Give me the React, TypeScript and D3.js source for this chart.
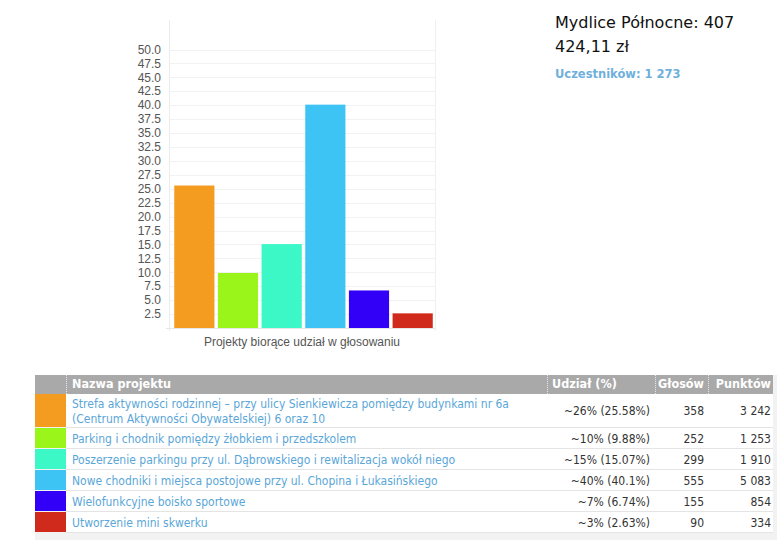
import React from "react";
import * as d3 from "d3";

const projects = [
  "Strefa aktywności rodzinnej – przy ulicy Sienkiewicza pomiędzy budynkami nr 6a|(Centrum Aktywności Obywatelskiej) 6 oraz 10",
  "Parking i chodnik pomiędzy żłobkiem i przedszkolem",
  "Poszerzenie parkingu przy ul. Dąbrowskiego i rewitalizacja wokół niego",
  "Nowe chodniki i miejsca postojowe przy ul. Chopina i Łukasińskiego",
  "Wielofunkcyjne boisko sportowe",
  "Utworzenie mini skwerku",
];
const shares = [25.58, 9.88, 15.07, 40.1, 6.74, 2.63];
const shareLabels = ["~26% (25.58%)", "~10% (9.88%)", "~15% (15.07%)", "~40% (40.1%)", "~7% (6.74%)", "~3% (2.63%)"];
const votes = ["358", "252", "299", "555", "155", "90"];
const points = ["3 242", "1 253", "1 910", "5 083", "854", "334"];
const colors = ["#f39c1f", "#99f51a", "#3cf7c6", "#3ec4f4", "#3300f7", "#d02a1c"];
const yTicks = d3.range(1, 21).map((i) => i * 2.5);

const TABLE_FONT = "Tahoma, 'DejaVu Sans Condensed', 'DejaVu Sans', sans-serif";

export default function App() {
  const y = d3.scaleLinear().domain([0, 50]).range([328, 49.5]);
  const x = d3
    .scaleBand<number>()
    .domain(d3.range(shares.length))
    .range([172.5, 434.5])
    .paddingInner(0.08)
    .paddingOuter(0.04);

  const rowHeights = [34, 21, 21, 21, 21, 21];
  const rowTops: number[] = [];
  let acc = 394;
  rowHeights.forEach((h) => {
    rowTops.push(acc);
    acc += h;
  });
  const tableBottom = acc;

  return (
    <svg
      width={784}
      height={540}
      style={{ position: "absolute", left: 0, top: 0, background: "#fff" }}
    >
      <g>
        {yTicks.map((t) => (
          <line key={"g" + t} x1={169} x2={435} y1={Math.round(y(t)) + 0.5} y2={Math.round(y(t)) + 0.5} stroke="#f2f2f2" />
        ))}
        <line x1={169.5} x2={169.5} y1={20} y2={331} stroke="#ececec" />
        <line x1={435.5} x2={435.5} y1={20} y2={331} stroke="#f0f0f0" />
        <line x1={166} x2={435} y1={328.5} y2={328.5} stroke="#e6e6e6" />
        {yTicks.map((t) => (
          <text
            key={"t" + t}
            x={161}
            y={y(t)}
            dy="0.35em"
            textAnchor="end"
            fontFamily="'Liberation Sans', Arial, sans-serif"
            fontSize={12}
            fill="#555"
          >
            {t.toFixed(1)}
          </text>
        ))}
        {shares.map((v, i) => (
          <rect
            key={"b" + i}
            x={x(i)!}
            y={y(v)}
            width={x.bandwidth()}
            height={y(0) - y(v)}
            fill={colors[i]}
          />
        ))}
        <text
          x={302}
          y={346}
          textAnchor="middle"
          fontFamily="'Liberation Sans', Arial, sans-serif"
          fontSize={12}
          fill="#555"
        >
          Projekty biorące udział w głosowaniu
        </text>
      </g>

      <text x={555} y={28} fontFamily="Tahoma, 'DejaVu Sans', sans-serif" fontSize={16} fill="#111">
        Mydlice Północne: 407
      </text>
      <text x={555} y={52} fontFamily="Tahoma, 'DejaVu Sans', sans-serif" fontSize={16} fill="#111">
        424,11 zł
      </text>
      <text x={555} y={78} fontFamily="Tahoma, 'DejaVu Sans', sans-serif" fontSize={11.5} fontWeight="bold" fill="#6fb0dc">
        Uczestników: 1 273
      </text>

      <g fontFamily={TABLE_FONT} fontSize={12}>
        <rect x={35} y={375} width={742} height={165} fill="#f2f2f2" />
        <rect x={35} y={375} width={738} height={19} fill="#a9a9a9" />
        {[66, 547, 655, 708].map((xx) => (
          <line key={"hs" + xx} x1={xx + 0.5} x2={xx + 0.5} y1={375} y2={394} stroke="#e8e8e8" strokeDasharray="1,1" />
        ))}
        <g fontSize={12.5} fontWeight="bold" fill="#fff">
          <text x={72} y={388}>Nazwa projektu</text>
          <text x={552} y={388}>Udział (%)</text>
          <text x={704} y={388} textAnchor="end">Głosów</text>
          <text x={771} y={388} textAnchor="end">Punktów</text>
        </g>
        {projects.map((p, i) => {
          const top = rowTops[i];
          const h = rowHeights[i];
          const lines = p.split("|");
          const mid = top + h / 2;
          return (
            <g key={"r" + i}>
              <rect x={66} y={top} width={707} height={h - 1} fill="#fff" />
              <rect x={35} y={top} width={31} height={h - 1} fill={colors[i]} />
              <line x1={66} x2={773} y1={top + h - 0.5} y2={top + h - 0.5} stroke="#e4e4e4" />
              {lines.map((ln, k) => (
                <text
                  key={k}
                  x={72}
                  y={lines.length > 1 ? top + 14 + k * 15 : mid + 4}
                  fill="#5aa6d9"
                >
                  {ln}
                </text>
              ))}
              <text x={650} y={mid + 4} textAnchor="end" fill="#333">{shareLabels[i]}</text>
              <text x={704} y={mid + 4} textAnchor="end" fill="#333">{votes[i]}</text>
              <text x={771} y={mid + 4} textAnchor="end" fill="#333">{points[i]}</text>
            </g>
          );
        })}
        <rect x={35} y={tableBottom} width={742} height={540 - tableBottom} fill="#f2f2f2" />
      </g>
    </svg>
  );
}
